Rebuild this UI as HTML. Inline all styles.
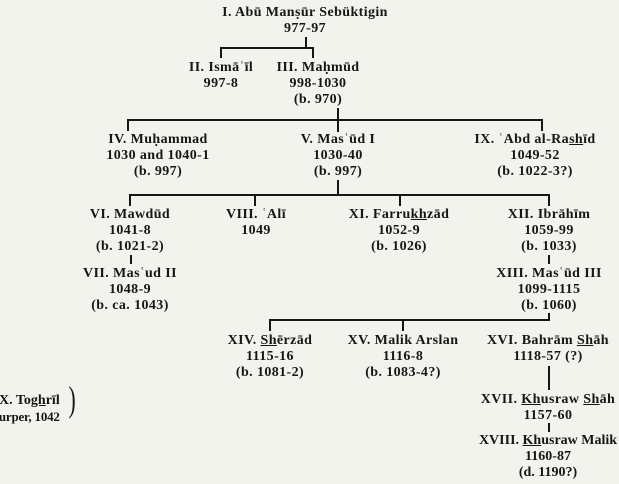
<!DOCTYPE html>
<html><head><meta charset="utf-8"><style>
body{margin:0;width:619px;height:484px;background:#f3f3ee;position:relative;overflow:hidden;font-family:"Liberation Serif",serif;font-weight:bold;font-size:14px;letter-spacing:0.4px;color:#161616}
.t{position:absolute;text-align:center;line-height:16px;white-space:nowrap;transform:translateX(-50%)}
.l{position:absolute;background:#161616}
u{text-decoration:underline}
</style></head><body>
<div class="t" style="left:305px;top:5px">I. Abū Manṣūr Sebüktigin<br>977-97</div>
<div class="l" style="left:305px;top:37px;width:2px;height:11px"></div>
<div class="l" style="left:220px;top:47px;width:94px;height:2px"></div>
<div class="l" style="left:220px;top:47px;width:2px;height:11px"></div>
<div class="l" style="left:312px;top:47px;width:2px;height:11px"></div>
<div class="t" style="left:221px;top:60px">II. Ismāʿīl<br>997-8</div>
<div class="t" style="left:318px;top:60px">III. Maḥmūd<br>998-1030<br>(b. 970)</div>
<div class="l" style="left:337px;top:108px;width:2px;height:24px"></div>
<div class="l" style="left:127px;top:119px;width:416px;height:2px"></div>
<div class="l" style="left:127px;top:119px;width:2px;height:12px"></div>
<div class="l" style="left:541px;top:119px;width:2px;height:12px"></div>
<div class="t" style="left:158px;top:132px">IV. Muḥammad<br>1030 and 1040-1<br>(b. 997)</div>
<div class="t" style="left:338px;top:132px">V. Masʿūd I<br>1030-40<br>(b. 997)</div>
<div class="t" style="left:535px;top:132px">IX. ʿAbd al-Ra<u>sh</u>īd<br>1049-52<br>(b. 1022-3?)</div>
<div class="l" style="left:337px;top:180px;width:2px;height:15px"></div>
<div class="l" style="left:129px;top:194px;width:421px;height:2px"></div>
<div class="l" style="left:129px;top:194px;width:2px;height:12px"></div>
<div class="l" style="left:254px;top:194px;width:2px;height:12px"></div>
<div class="l" style="left:399px;top:194px;width:2px;height:12px"></div>
<div class="l" style="left:548px;top:194px;width:2px;height:12px"></div>
<div class="t" style="left:130px;top:207px">VI. Mawdūd<br>1041-8<br>(b. 1021-2)</div>
<div class="l" style="left:130px;top:255px;width:2px;height:9px"></div>
<div class="t" style="left:130px;top:266px">VII. Masʿud II<br>1048-9<br>(b. ca. 1043)</div>
<div class="t" style="left:256px;top:207px">VIII. ʿAlī<br>1049</div>
<div class="t" style="left:399px;top:207px">XI. Farru<u>kh</u>zād<br>1052-9<br>(b. 1026)</div>
<div class="t" style="left:549px;top:207px">XII. Ibrāhīm<br>1059-99<br>(b. 1033)</div>
<div class="l" style="left:548px;top:255px;width:2px;height:9px"></div>
<div class="t" style="left:549px;top:266px">XIII. Masʿūd III<br>1099-1115<br>(b. 1060)</div>
<div class="l" style="left:548px;top:313px;width:2px;height:8px"></div>
<div class="l" style="left:269px;top:319px;width:281px;height:2px"></div>
<div class="l" style="left:269px;top:319px;width:2px;height:12px"></div>
<div class="l" style="left:402px;top:319px;width:2px;height:12px"></div>
<div class="t" style="left:270px;top:333px">XIV. <u>Sh</u>ērzād<br>1115-16<br>(b. 1081-2)</div>
<div class="t" style="left:403px;top:333px">XV. Malik Arslan<br>1116-8<br>(b. 1083-4?)</div>
<div class="t" style="left:548px;top:333px">XVI. Bahrām <u>Sh</u>āh<br>1118-57 (?)</div>
<div class="l" style="left:548px;top:366px;width:2px;height:24px"></div>
<div class="t" style="left:548px;top:392px">XVII. <u>Kh</u>usraw <u>Sh</u>āh<br>1157-60</div>
<div class="l" style="left:548px;top:423px;width:2px;height:9px"></div>
<div class="t" style="left:548px;top:433px;letter-spacing:0"><span style="letter-spacing:0">XVIII. <u>Kh</u>usraw Malik</span><br>1160-87<br>(d. 1190?)</div>
<div style="position:absolute;left:-1px;top:393px;line-height:16px;white-space:nowrap;letter-spacing:0">X. To<u>gh</u>rīl</div>
<div style="position:absolute;left:-6px;top:409px;line-height:16px;white-space:nowrap;letter-spacing:-0.2px;font-size:13px">surper, 1042</div>
<div style="position:absolute;left:66px;top:379px;font-size:36px;font-weight:normal;line-height:40px;transform:scaleX(0.6)">)</div>
</body></html>
